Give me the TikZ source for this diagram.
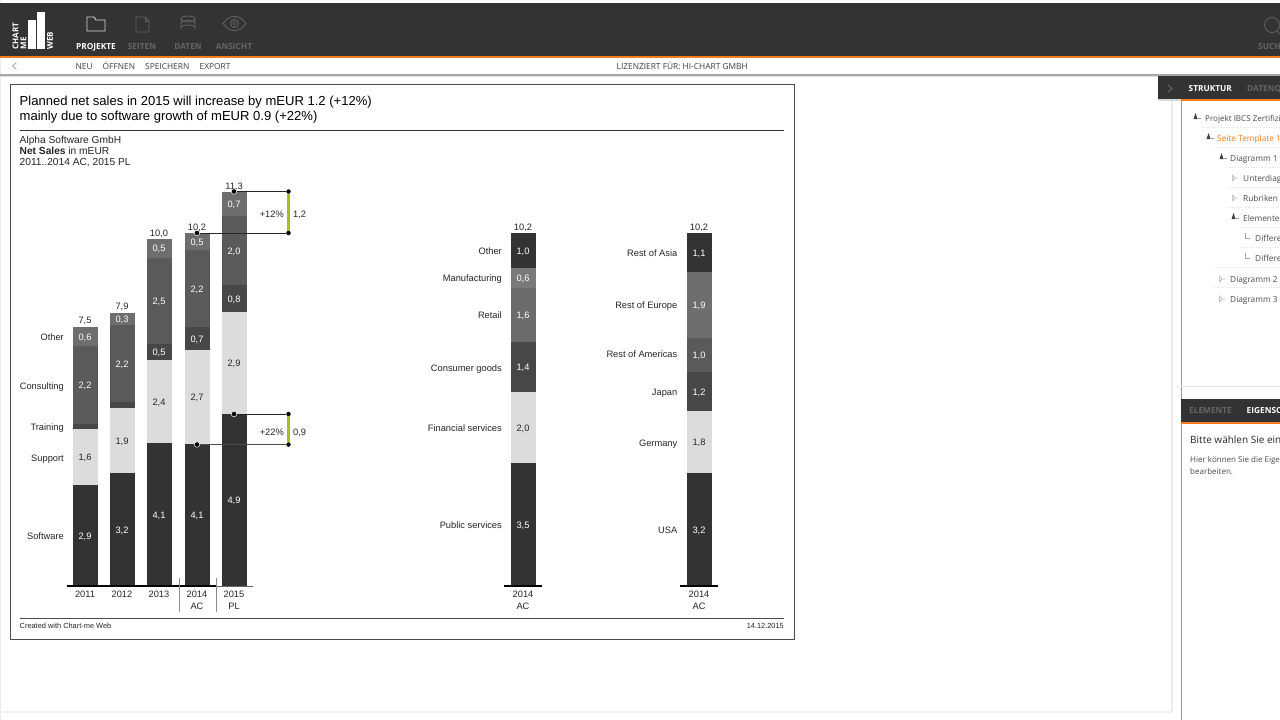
\documentclass[tikz,border=0pt]{standalone}
\usepackage{fontspec}
\setmainfont{Liberation Sans}
\newfontfamily\uifont{Open Sans}
\usetikzlibrary{calc}
\definecolor{topdark}{HTML}{333333}
\definecolor{accent}{HTML}{FF7F1E}
\definecolor{softshade}{HTML}{333333}
\definecolor{supshade}{HTML}{DCDCDC}
\definecolor{trainshade}{HTML}{474747}
\definecolor{consshade}{HTML}{5A5A5A}
\definecolor{othshade}{HTML}{6E6E6E}
\definecolor{mfgshade}{HTML}{7A7A7A}
\definecolor{diffgreen}{HTML}{9FC31C}
\tikzset{
  seg/.style={rectangle, inner sep=0pt, minimum width=25pt, text height=7.5pt, text depth=0pt, text=white, font=\fontsize{9.3}{9}\selectfont},
  seglight/.style={seg, text=black!85},
  segblank/.style={seg, text height=0pt},
  lab/.style={inner sep=0pt, text height=7.5pt, text depth=0pt, text=black!85, font=\fontsize{9.3}{9}\selectfont},
  catlab/.style={lab, anchor=east},
  menutab/.style={inner sep=0pt, text height=6.5pt, text depth=0pt, font=\uifont\bfseries\fontsize{8.3}{9}\selectfont},
  submenu/.style={inner sep=0pt, anchor=west, text height=6.5pt, text depth=0pt, text=black!75, font=\uifont\fontsize{8.35}{9}\selectfont},
  treelab/.style={inner sep=0pt, anchor=west, text height=6.5pt, text depth=0pt, text=black!70, font=\uifont\fontsize{8.3}{9}\selectfont},
  treesep/.style={black!8, densely dotted, line width=0.6pt},
  treeopen/.style={fill=black!75},
  treeshut/.style={draw=black!35, line width=0.5pt},
  head/.style={inner sep=0pt, anchor=west, align=left, text=black, font=\fontsize{13.05}{15}\selectfont},
  sub/.style={inner sep=0pt, anchor=west, align=left, text=black!85, font=\fontsize{10.2}{11}\selectfont},
  foot/.style={inner sep=0pt, text=black!85, font=\fontsize{7.4}{8}\selectfont},
  logotext/.style={rotate=90, anchor=west, inner sep=0pt, text=white, font=\uifont\bfseries\fontsize{8}{8}\selectfont},
  dot/.style={circle, fill=black, inner sep=0pt, minimum size=4.5pt},
  rimdot/.style={dot, draw=white, line width=0.5pt, minimum size=5.5pt},
}
\begin{document}
\begin{tikzpicture}[x=1pt, y=-1pt]
  \useasboundingbox (0,0) rectangle (1280,720);
  \clip (0,0) rectangle (1280,720);
  \fill[white] (0,0) rectangle (1280,720);
  \fill[black!8] (0,0) rectangle (1,720);

  \fill[black!8] (1171,76) rectangle (1173,712);
  \fill[black!6] (0,711) rectangle (1173,713);
  \fill[topdark] (0,3) rectangle (1280,56);
  \fill[accent] (0,56) rectangle (1280,58);
  \fill[black!35] (0,74) rectangle (1280,75.5);
  \fill[black!12] (0,75.5) rectangle (1280,77);

  \fill[white] (28,20) rectangle (36,49);
  \fill[white] (37,12) rectangle (45,49);
  \node[logotext] (logoa) at (15.5,49.5) {CHART};
  \node[logotext] (logob) at (23.5,49.5) {ME};
  \node[logotext] (logoc) at (50,49.5) {WEB};

  \draw[white!85!black, line width=0.9pt] (87,31) -- (87,17) -- (94,17) -- (96,20) -- (105,20) -- (105,31) -- cycle;
  \draw[black!62, line width=0.9pt] (136,17) -- (145,17) -- (149,21) -- (149,32) -- (136,32) -- cycle;
  \draw[black!62, line width=0.9pt] (145,17) -- (145,21) -- (149,21);
  \draw[black!62, line width=0.9pt] (188,19) ellipse (7 and 3);
  \draw[black!62, line width=0.9pt] (181,19) -- (181,28) arc[start angle=180, end angle=360, x radius=7, y radius=3] -- (195,19);
  \draw[black!62, line width=0.9pt] (181,23.5) arc[start angle=180, end angle=360, x radius=7, y radius=3];
  \draw[black!62, line width=0.9pt] (223,23.5) .. controls (230,14) and (239,14) .. (246,23.5) .. controls (239,33) and (230,33) .. (223,23.5) -- cycle;
  \draw[black!62, line width=0.9pt] (234.5,23.5) circle (4);
  \draw[black!62, line width=0.6pt] (234.5,23.5) circle (1.8);
  \draw[black!62, line width=0.9pt] (1272,25) circle (7.5);
  \draw[black!62, line width=0.9pt] (1277,31) -- (1280,34);

  \node[menutab, text=white] (tabprojekte) at (96,46) {PROJEKTE};
  \node[menutab, text=black!60] (tabseiten) at (142,46) {SEITEN};
  \node[menutab, text=black!60] (tabdaten) at (188,46) {DATEN};
  \node[menutab, text=black!60] (tabansicht) at (234,46) {ANSICHT};
  \node[menutab, text=black!60, anchor=west] (tabsuche) at (1258,46) {SUCH};

  \draw[black!45, line width=0.6pt] (16.5,62.5) -- (12.5,66) -- (16.5,69.5);
  \node[submenu] (menuneu) at (75.5,66) {NEU};
  \node[submenu] (menuopen) at (102.5,66) {ÖFFNEN};
  \node[submenu] (menusave) at (145,66) {SPEICHERN};
  \node[submenu] (menuexport) at (199.5,66) {EXPORT};
  \node[submenu] (menulizenz) at (616.5,66) {LIZENZIERT FÜR: HI-CHART GMBH};

  \draw[black!70, line width=0.9pt] (10,84.5) rectangle (794.5,639);
  \node[head] (title) at (19.5,109.5) {Planned net sales in 2015 will increase by mEUR 1.2 (+12\%)\\mainly due to software growth of mEUR 0.9 (+22\%)};
  \draw[black!80, line width=0.7pt] (19.5,130.5) -- (784,130.5);
  \node[sub] (subtitle) at (19.5,151) {Alpha Software GmbH\\\textbf{Net Sales} in mEUR\\2011..2014 AC, 2015 PL};
  \draw[black!70, line width=0.7pt] (19.5,618) -- (784,618);
  \node[foot, anchor=west] (created) at (19.5,625.5) {Created with Chart-me Web};
  \node[foot, anchor=east] (stamp) at (784,625.5) {14.12.2015};

  \node[seg, fill=softshade, minimum height=101pt] (a1) at (85,535.5) {2,9};
  \node[seglight, fill=supshade, minimum height=56pt] (a2) at (85,457) {1,6};
  \node[segblank, fill=trainshade, minimum height=5pt] (a3) at (85,426.5) {};
  \node[seg, fill=consshade, minimum height=78.5pt] (a4) at (85,384.75) {2,2};
  \node[seg, fill=othshade, minimum height=19pt] (a5) at (85,336.5) {0,6};

  \node[seg, fill=softshade, minimum height=113pt] (b1) at (122,529.5) {3,2};
  \node[seglight, fill=supshade, minimum height=65pt] (b2) at (122,440.5) {1,9};
  \node[segblank, fill=trainshade, minimum height=6.5pt] (b3) at (122,404.75) {};
  \node[seg, fill=consshade, minimum height=76.5pt] (b4) at (122,363.25) {2,2};
  \node[seg, fill=othshade, minimum height=12.5pt] (b5) at (122,318.75) {0,3};

  \node[seg, fill=softshade, minimum height=143.5pt] (c1) at (159,514.25) {4,1};
  \node[seglight, fill=supshade, minimum height=82.5pt] (c2) at (159,401.25) {2,4};
  \node[seg, fill=trainshade, minimum height=16pt] (c3) at (159,352) {0,5};
  \node[seg, fill=consshade, minimum height=86.5pt] (c4) at (159,300.75) {2,5};
  \node[seg, fill=othshade, minimum height=19pt] (c5) at (159,248) {0,5};

  \node[seg, fill=softshade, minimum height=142pt] (d1) at (197,515) {4,1};
  \node[seglight, fill=supshade, minimum height=94.5pt] (d2) at (197,396.75) {2,7};
  \node[seg, fill=trainshade, minimum height=22.5pt] (d3) at (197,338.25) {0,7};
  \node[seg, fill=consshade, minimum height=77pt] (d4) at (197,288.5) {2,2};
  \node[seg, fill=othshade, minimum height=17pt] (d5) at (197,241.5) {0,5};

  \node[seg, fill=softshade, minimum height=172pt] (e1) at (234,500) {4,9};
  \node[seglight, fill=supshade, minimum height=102pt] (e2) at (234,363) {2,9};
  \node[seg, fill=trainshade, minimum height=27.5pt] (e3) at (234,298.25) {0,8};
  \node[seg, fill=consshade, minimum height=69pt] (e4) at (234,250.5) {2,0};
  \node[seg, fill=othshade, minimum height=24pt] (e5) at (234,204) {0,7};

  \node[seg, fill=softshade, minimum height=123pt] (m1) at (523,524.5) {3,5};
  \node[seglight, fill=supshade, minimum height=71pt] (m2) at (523,427.5) {2,0};
  \node[seg, fill=trainshade, minimum height=50pt] (m3) at (523,367) {1,4};
  \node[seg, fill=consshade!90!white, minimum height=54.5pt] (m4) at (523,314.75) {1,6};
  \node[seg, fill=mfgshade, minimum height=20pt] (m5) at (523,277.5) {0,6};
  \node[seg, fill=softshade, minimum height=34.5pt] (m6) at (523,250.25) {1,0};

  \node[seg, fill=softshade, minimum height=113pt] (r1) at (699,529.5) {3,2};
  \node[seglight, fill=supshade, minimum height=62pt] (r2) at (699,442) {1,8};
  \node[seg, fill=trainshade, minimum height=39.5pt] (r3) at (699,391.25) {1,2};
  \node[seg, fill=consshade, minimum height=34pt] (r4) at (699,354.5) {1,0};
  \node[seg, fill=othshade, minimum height=65.5pt] (r5) at (699,304.75) {1,9};
  \node[seg, fill=softshade, minimum height=39pt] (r6) at (699,252.5) {1,1};

  \node[lab] (suma) at (85,320) {7,5};
  \node[lab] (sumb) at (122,306) {7,9};
  \node[lab] (sumc) at (159,232.5) {10,0};
  \node[lab] (sumd) at (197,227) {10,2};
  \node[lab] (sume) at (234,186) {11,3};
  \node[lab] (summ) at (523,227) {10,2};
  \node[lab] (sumr) at (699,227) {10,2};

  \node[catlab] (catother) at (64,337) {Other};
  \node[catlab] (catcons) at (64,385.7) {Consulting};
  \node[catlab] (cattrain) at (64,427) {Training};
  \node[catlab] (catsup) at (64,457.7) {Support};
  \node[catlab] (catsoft) at (64,536) {Software};

  \node[catlab] (secother) at (502,250.7) {Other};
  \node[catlab] (secmanu) at (502,278) {Manufacturing};
  \node[catlab] (secretail) at (502,315) {Retail};
  \node[catlab] (seccons) at (502,367.7) {Consumer goods};
  \node[catlab] (secfin) at (502,428) {Financial services};
  \node[catlab] (secpub) at (502,525) {Public services};

  \node[catlab] (regasia) at (677.5,252.7) {Rest of Asia};
  \node[catlab] (regeur) at (677.5,305) {Rest of Europe};
  \node[catlab] (regam) at (677.5,354) {Rest of Americas};
  \node[catlab] (regjap) at (677.5,391.5) {Japan};
  \node[catlab] (reggerm) at (677.5,442.5) {Germany};
  \node[catlab] (regusa) at (677.5,530) {USA};

  \draw[black, line width=2.4pt] (66.7,586) -- (217,586);
  \draw[black!60, line width=0.7pt] (217,586) -- (253,586);
  \draw[black, line width=2.4pt] (504,586) -- (542,586);
  \draw[black, line width=2.4pt] (680,586) -- (717.5,586);
  \draw[black!45, line width=0.7pt] (179.3,578) -- (179.3,612);
  \draw[black!45, line width=0.7pt] (216.7,578) -- (216.7,612);

  \node[lab] (yeara) at (85,593.5) {2011};
  \node[lab] (yearb) at (122,593.5) {2012};
  \node[lab] (yearc) at (159,593.5) {2013};
  \node[lab] (yeard) at (197,593.5) {2014};
  \node[lab] (yeare) at (234,593.5) {2015};
  \node[lab] (scend) at (197,606) {AC};
  \node[lab] (scene) at (234,606) {PL};
  \node[lab] (yearm) at (523,593.5) {2014};
  \node[lab] (scenm) at (523,606) {AC};
  \node[lab] (yearr) at (699,593.5) {2014};
  \node[lab] (scenr) at (699,606) {AC};

  \node[rimdot] (upfrom) at (197,233) {};
  \node[rimdot] (upto) at (234,191.5) {};
  \node[dot] (upfromend) at (288.5,233) {};
  \node[dot] (uptoend) at (288.5,191.5) {};
  \node[rimdot] (softto) at (234,414) {};
  \node[rimdot] (softfrom) at (197,444.5) {};
  \node[dot] (softtoend) at (288.5,414) {};
  \node[dot] (softfromend) at (288.5,444.5) {};
  \draw[black!85, line width=0.8pt] (upfrom) -- (upfromend);
  \draw[black!85, line width=0.8pt] (upto) -- (uptoend);
  \draw[black!85, line width=0.8pt] (softto) -- (softtoend);
  \draw[black!70, line width=0.8pt] (softfrom) -- (softfromend);
  \draw[diffgreen, line width=2.2pt] (uptoend) -- (upfromend);
  \draw[diffgreen, line width=2.2pt] (softtoend) -- (softfromend);
  \node[lab, anchor=east] (pcttop) at (284,214) {+12\%};
  \node[lab, anchor=west] (abstop) at (293,214) {1,2};
  \node[lab, anchor=east] (pctsoft) at (284,432) {+22\%};
  \node[lab, anchor=west] (abssoft) at (293,432) {0,9};

  \draw[black!40, line width=0.9pt] (1181,100) -- (1181,720);
  \fill[black!15] (1158,99) rectangle (1181,101);
  \fill[topdark] (1158,76) rectangle (1280,99);
  \fill[accent] (1181,99) rectangle (1280,100.5);
  \draw[black!55, line width=0.7pt] (1168,85) -- (1172,88.5) -- (1168,92);
  \node[menutab, text=white, anchor=west] (panstruktur) at (1188.5,88) {STRUKTUR};
  \node[menutab, text=black!60, anchor=west] (pandaten) at (1247,88) {DATENQ};

  \draw[treesep] (1202,127.5) -- (1280,127.5);
  \draw[treesep] (1215,147.5) -- (1280,147.5);
  \draw[treesep] (1227,167.5) -- (1280,167.5);
  \draw[treesep] (1227,187.5) -- (1280,187.5);
  \draw[treesep] (1227,207.5) -- (1280,207.5);
  \draw[treesep] (1240,227.5) -- (1280,227.5);
  \draw[treesep] (1240,247.5) -- (1280,247.5);
  \draw[treesep] (1215,267.5) -- (1280,267.5);
  \draw[treesep] (1215,287.5) -- (1280,287.5);

  \fill[treeopen] (1195.5,113) -- (1197.5,119) -- (1193.5,119) -- cycle;
  \draw[black!40, line width=0.5pt] (1197.5,118) -- (1200.5,118);
  \fill[treeopen] (1208.5,133) -- (1210.5,139) -- (1206.5,139) -- cycle;
  \draw[black!40, line width=0.5pt] (1210.5,138) -- (1213.5,138);
  \fill[treeopen] (1221.5,153) -- (1223.5,159) -- (1219.5,159) -- cycle;
  \draw[black!40, line width=0.5pt] (1223.5,158) -- (1226.5,158);
  \fill[treeopen] (1233.5,213) -- (1235.5,219) -- (1231.5,219) -- cycle;
  \draw[black!40, line width=0.5pt] (1235.5,218) -- (1238.5,218);
  \draw[treeshut] (1232.5,175) -- (1235,178) -- (1232.5,181) -- cycle (1235,178) -- (1238,178);
  \draw[treeshut] (1232.5,195) -- (1235,198) -- (1232.5,201) -- cycle (1235,198) -- (1238,198);
  \draw[treeshut] (1219.5,276) -- (1222,279) -- (1219.5,282) -- cycle (1222,279) -- (1225,279);
  \draw[treeshut] (1219.5,296) -- (1222,299) -- (1219.5,302) -- cycle (1222,299) -- (1225,299);
  \draw[treeshut] (1245.5,233) -- (1245.5,238) -- (1250,238);
  \draw[treeshut] (1245.5,253) -- (1245.5,258) -- (1250,258);

  \node[treelab, font=\uifont\fontsize{8.05}{9}\selectfont] (treeproj) at (1205,118) {Projekt IBCS Zertifizi};
  \node[treelab, text=accent] (treepage) at (1217,138) {Seite Template 1};
  \node[treelab] (treedia) at (1230,158) {Diagramm 1};
  \node[treelab] (treeunter) at (1243,178) {Unterdiag};
  \node[treelab] (treerub) at (1243,198) {Rubriken};
  \node[treelab] (treeelem) at (1243,218) {Elemente};
  \node[treelab] (treediffa) at (1255,238) {Differe};
  \node[treelab] (treediffb) at (1255,258) {Differe};
  \node[treelab] (treediab) at (1230,279) {Diagramm 2};
  \node[treelab] (treediac) at (1230,299) {Diagramm 3};

  \fill[black!10] (1181,385.5) rectangle (1280,387);
  \fill[topdark] (1181,399) rectangle (1280,422);
  \fill[accent] (1181,422) rectangle (1280,424);
  \node[menutab, text=black!60, anchor=west] (panelem) at (1189,410.5) {ELEMENTE};
  \node[menutab, text=white, anchor=west] (paneigen) at (1246.5,410.5) {EIGENSC};
  \node[inner sep=0pt, anchor=west, text=black!85, font=\uifont\fontsize{10}{11}\selectfont] (pleasepick) at (1190,440) {Bitte wählen Sie ein};
  \node[treelab, font=\uifont\fontsize{8}{9}\selectfont] (hinta) at (1190,459) {Hier können Sie die Eige};
  \node[treelab, font=\uifont\fontsize{8}{9}\selectfont] (hintb) at (1190,471) {bearbeiten.};
\end{tikzpicture}
\end{document}
